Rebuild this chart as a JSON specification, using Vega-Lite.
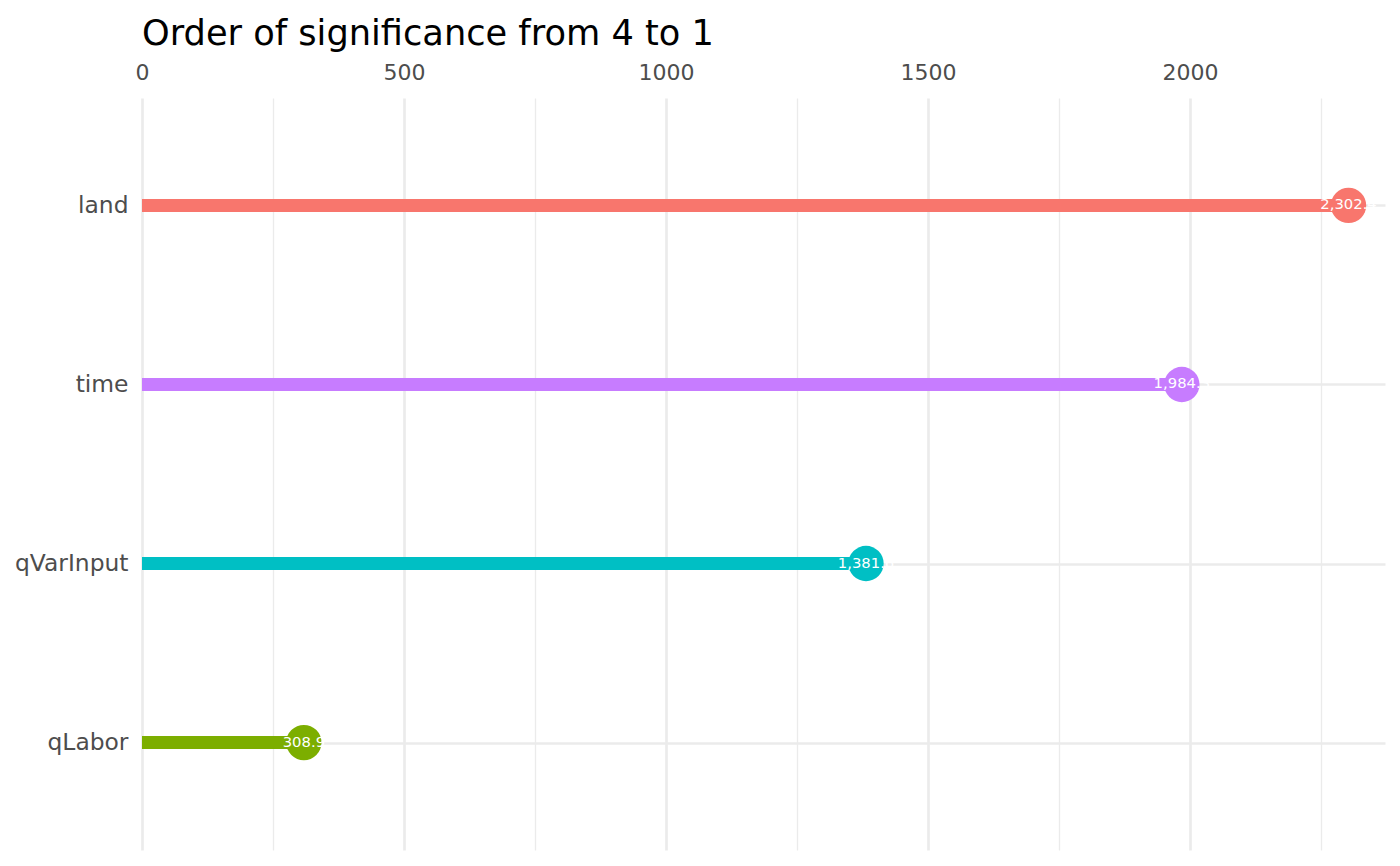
{
  "$schema": "https://vega.github.io/schema/vega-lite/v6.json",
  "autosize": "none",
  "padding": {"left": 142, "top": 98, "right": 15, "bottom": 16},
  "width": 1243,
  "height": 752,
  "background": "#ffffff",
  "title": {
    "text": "Order of significance from 4 to 1",
    "anchor": "start",
    "frame": "group",
    "fontSize": 35.2,
    "font": "DejaVu Sans",
    "fontWeight": "normal",
    "color": "#000000",
    "offset": 9
  },
  "config": {
    "view": {"stroke": null},
    "font": "DejaVu Sans"
  },
  "data": {
    "values": [
      {"variable": "land", "value": 2302.4},
      {"variable": "time", "value": 1984.3},
      {"variable": "qVarInput", "value": 1381.6},
      {"variable": "qLabor", "value": 308.9}
    ]
  },
  "encoding": {
    "y": {
      "field": "variable",
      "type": "nominal",
      "sort": ["land", "time", "qVarInput", "qLabor"],
      "scale": {"type": "point", "padding": 0.6},
      "axis": {
        "title": null,
        "labelFontSize": 23.4,
        "labelColor": "#4d4d4d",
        "labelFont": "DejaVu Sans",
        "labelPadding": 14,
        "ticks": false,
        "domain": false,
        "grid": true,
        "gridColor": "#ebebeb",
        "gridWidth": 2.7
      }
    }
  },
  "layer": [
    {
      "mark": {"type": "bar", "size": 13},
      "encoding": {
        "x": {
          "field": "value",
          "type": "quantitative",
          "scale": {"domain": [0, 2372], "nice": false, "zero": true},
          "axis": {
            "orient": "bottom",
            "title": null,
            "values": [250, 750, 1250, 1750, 2250],
            "labels": false,
            "ticks": false,
            "domain": false,
            "grid": true,
            "gridColor": "#ebebeb",
            "gridWidth": 1.3
          }
        },
        "color": {
          "field": "variable",
          "type": "nominal",
          "scale": {
            "domain": ["land", "qLabor", "qVarInput", "time"],
            "range": ["#F8766D", "#7CAE00", "#00BFC4", "#C77CFF"]
          },
          "legend": null
        }
      }
    },
    {
      "mark": {"type": "circle", "size": 1250, "opacity": 1},
      "encoding": {
        "x": {
          "field": "value",
          "type": "quantitative",
          "axis": {
            "orient": "top",
            "title": null,
            "values": [0, 500, 1000, 1500, 2000],
            "format": "d",
            "labelFontSize": 22,
            "labelColor": "#4d4d4d",
            "labelFont": "DejaVu Sans",
            "labelPadding": 14,
            "labelFlush": false,
            "ticks": false,
            "domain": false,
            "grid": true,
            "gridColor": "#ebebeb",
            "gridWidth": 2.7
          }
        },
        "color": {"field": "variable", "type": "nominal", "legend": null}
      }
    },
    {
      "mark": {"type": "text", "color": "#ffffff", "fontSize": 14.8, "font": "DejaVu Sans", "align": "center", "baseline": "middle"},
      "encoding": {
        "x": {"field": "value", "type": "quantitative", "axis": null},
        "text": {"field": "value", "type": "quantitative", "format": ",.1f"}
      }
    }
  ],
  "resolve": {"axis": {"x": "independent"}}
}
